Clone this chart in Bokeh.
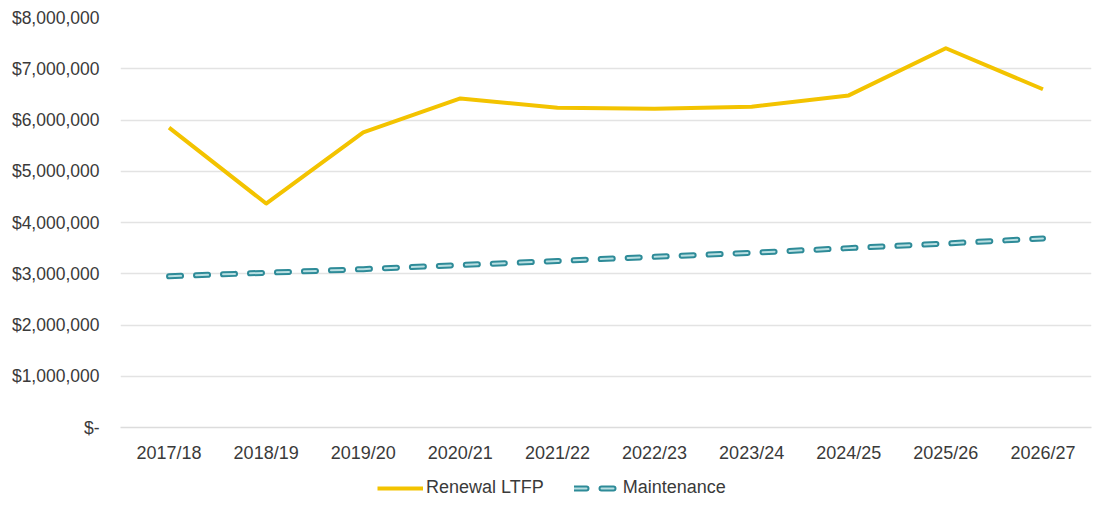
from bokeh.plotting import figure
from bokeh.layouts import column
from bokeh.models import FactorRange, FixedTicker, Legend, LegendItem, Range1d
from bokeh.embed import file_html
from bokeh.resources import INLINE

years = ["2017/18", "2018/19", "2019/20", "2020/21", "2021/22",
         "2022/23", "2023/24", "2024/25", "2025/26", "2026/27"]
renewal = [5850000, 4370000, 5760000, 6420000, 6240000,
           6220000, 6260000, 6480000, 7400000, 6600000]
maintenance = [2950000, 3020000, 3090000, 3170000, 3250000,
               3330000, 3410000, 3500000, 3590000, 3690000]
y_ticks = [0, 1000000, 2000000, 3000000, 4000000, 5000000, 6000000, 7000000, 8000000]
y_labels = ["$-", "$1,000,000", "$2,000,000", "$3,000,000", "$4,000,000",
            "$5,000,000", "$6,000,000", "$7,000,000", "$8,000,000"]

FONT = "Liberation Sans"
TXT = "#3a3a3a"
YELLOW = "#f3c300"
TEAL = "#2e8b98"
TEAL_LIGHT = "#b9dfe2"


def draw_lines(fig):
    r = fig.line(years, renewal, line_color=YELLOW, line_width=4, line_join="round")
    a = fig.line(years, maintenance, line_color=TEAL, line_width=6,
                 line_dash="12 15", line_cap="round")
    b = fig.line(years, maintenance, line_color=TEAL_LIGHT, line_width=2,
                 line_dash="12 15", line_cap="round")
    return r, a, b


p = figure(x_range=FactorRange(*years), y_range=Range1d(0, 8000000),
           frame_width=971, frame_height=410,
           min_border_left=120, min_border_top=17, min_border_right=6,
           min_border_bottom=40,
           output_backend="svg", toolbar_location=None)
p.outline_line_color = None
p.background_fill_color = "white"
draw_lines(p)

p.yaxis.ticker = FixedTicker(ticks=y_ticks)
p.yaxis.major_label_overrides = {t: l for t, l in zip(y_ticks, y_labels)}
p.yaxis.axis_line_color = None
p.yaxis.major_tick_line_color = None
p.yaxis.minor_tick_line_color = None
p.yaxis.major_label_standoff = 15
p.yaxis.major_label_text_font = FONT
p.yaxis.major_label_text_font_size = "17.5px"
p.yaxis.major_label_text_color = TXT

p.xaxis.axis_line_color = "#dcdcdc"
p.xaxis.axis_line_width = 1.5
p.xaxis.major_tick_line_color = None
p.xaxis.minor_tick_line_color = None
p.xaxis.major_label_standoff = 9
p.xaxis.major_label_text_font = FONT
p.xaxis.major_label_text_font_size = "18px"
p.xaxis.major_label_text_color = TXT

p.xgrid.grid_line_color = None
p.ygrid.grid_line_color = "#e3e3e3"
p.ygrid.grid_line_width = 1.5

# legend strip below the chart (same series, drawn outside its visible range)
lg = figure(x_range=FactorRange(*years), y_range=Range1d(-30000000, -20000000),
            width=1097, height=39, min_border=0,
            output_backend="svg", toolbar_location=None)
lg.axis.visible = False
lg.grid.visible = False
lg.outline_line_color = None
lr, la, lb = draw_lines(lg)
legend = Legend(items=[LegendItem(label="Renewal LTFP", renderers=[lr]),
                       LegendItem(label="Maintenance", renderers=[la, lb])],
                orientation="horizontal", location=(257, 8),
                glyph_width=46, glyph_height=16, label_standoff=3, spacing=30,
                label_text_font=FONT, label_text_font_size="18px",
                label_text_color=TXT, border_line_color=None,
                background_fill_alpha=0, padding=4, margin=0)
lg.add_layout(legend, "center")

layout = column(p, lg, spacing=0)
open("out.html", "w").write(file_html(layout, INLINE))
